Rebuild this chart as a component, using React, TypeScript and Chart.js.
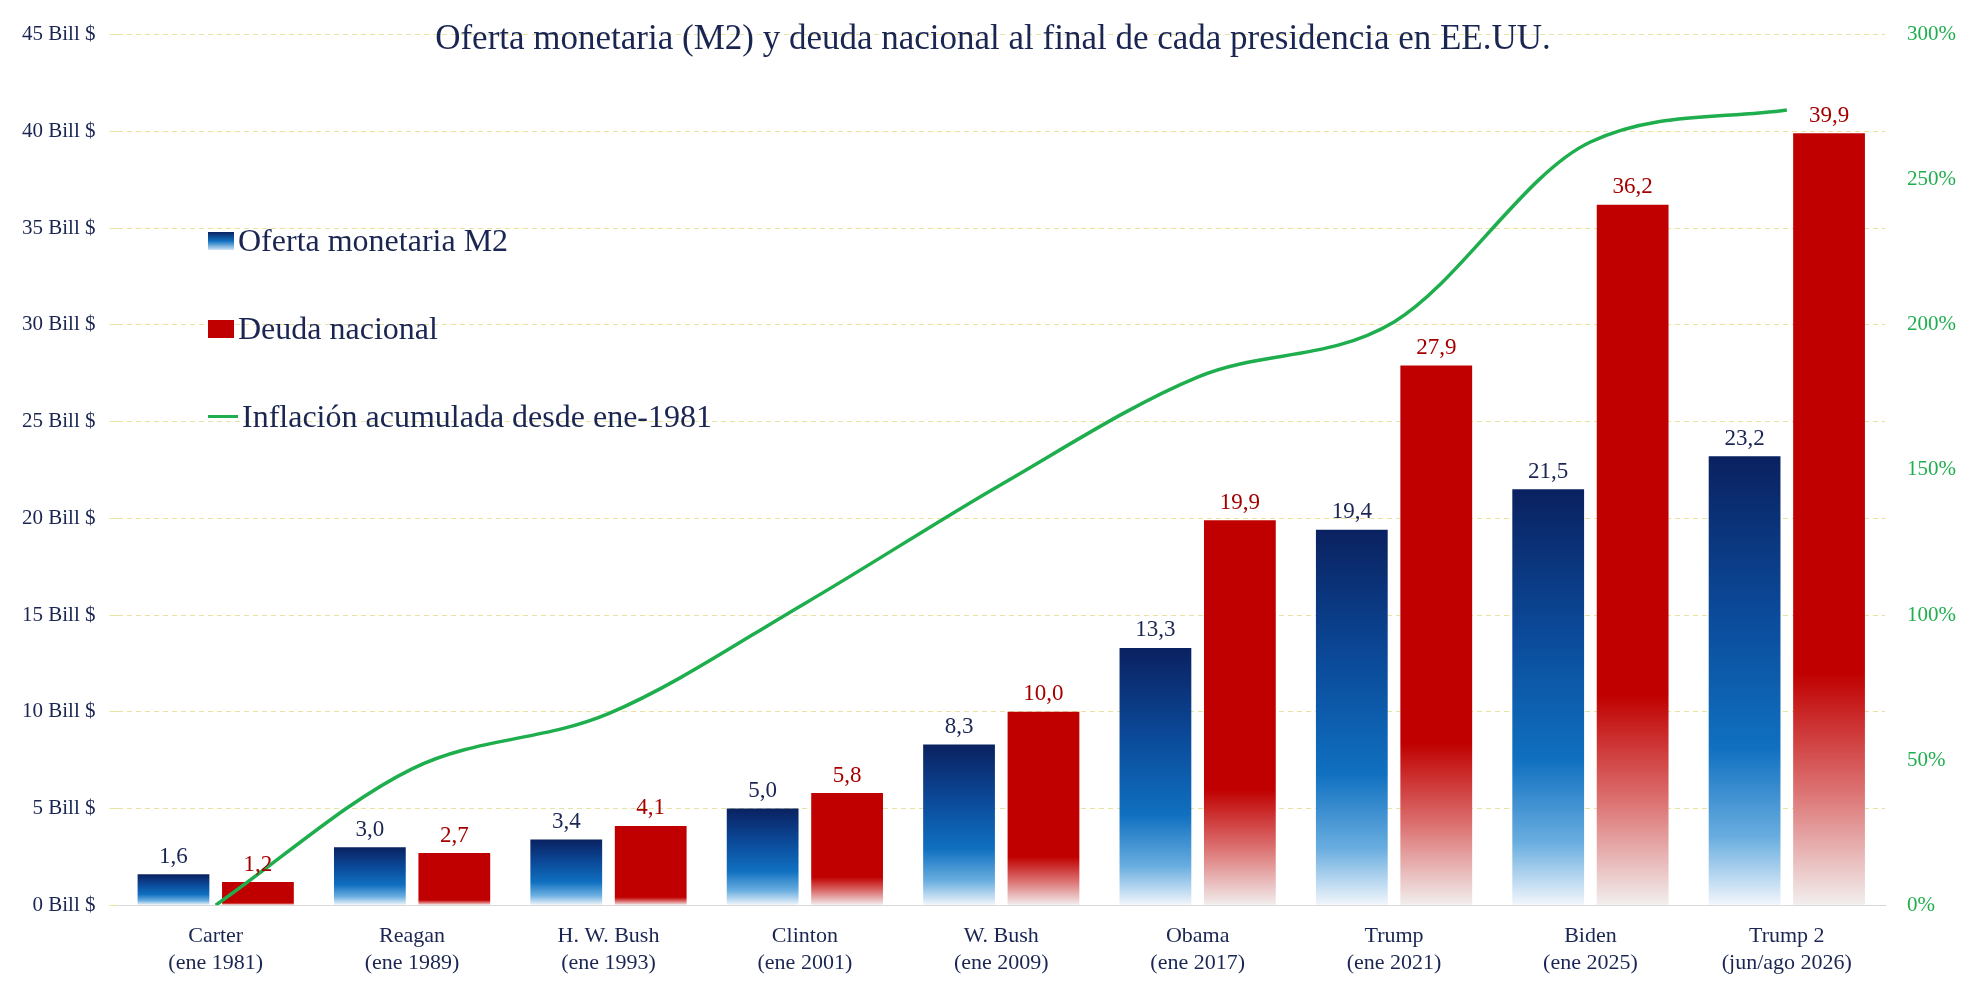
import React, { useEffect, useRef } from "react";
import { Chart, registerables } from "chart.js";
Chart.register(...registerables);

const categories = [["Carter", "(ene 1981)"], ["Reagan", "(ene 1989)"], ["H. W. Bush", "(ene 1993)"], ["Clinton", "(ene 2001)"], ["W. Bush", "(ene 2009)"], ["Obama", "(ene 2017)"], ["Trump", "(ene 2021)"], ["Biden", "(ene 2025)"], ["Trump 2", "(jun/ago 2026)"]];
const m2 = [1.6, 3.0, 3.4, 5.0, 8.3, 13.3, 19.4, 21.5, 23.2];
const debt = [1.2, 2.7, 4.1, 5.8, 10.0, 19.9, 27.9, 36.2, 39.9];
const inflation = [0, 47, 66, 104, 145, 182, 201, 263, 274];

const FONT = "'Liberation Serif', 'DejaVu Serif', serif";
const fmt = (v: number) => v.toFixed(1).replace(".", ",");

export default function App() {
  const ref = useRef<HTMLCanvasElement>(null);
  useEffect(() => {
    const blueBg = (c: any) => {
      const ch = c.chart; const y = ch.scales.y;
      if (!ch.chartArea || !y || c.raw == null) return "#0b3a7a";
      const top = y.getPixelForValue(c.raw), bot = y.getPixelForValue(0);
      const g = ch.ctx.createLinearGradient(0, top, 0, bot);
      g.addColorStop(0, "#0a2160");
      g.addColorStop(0.35, "#0b4a9a");
      g.addColorStop(0.65, "#1070c0");
      g.addColorStop(0.85, "#6aaee0");
      g.addColorStop(1, "#f2f6fb");
      return g;
    };
    const redBg = (c: any) => {
      const ch = c.chart; const y = ch.scales.y;
      if (!ch.chartArea || !y || c.raw == null) return "#c00000";
      const top = y.getPixelForValue(c.raw), bot = y.getPixelForValue(0);
      const g = ch.ctx.createLinearGradient(0, top, 0, bot);
      const start = c.raw > 15 ? 0.7 : c.raw > 5 ? 0.75 : 0.9;
      g.addColorStop(0, "#c00000");
      g.addColorStop(start, "#c00000");
      g.addColorStop(start + (1 - start) * 0.5, "#dc7070");
      g.addColorStop(1, "#f2eeee");
      return g;
    };
    const labelPlugin = {
      id: "labels",
      afterDatasetsDraw(chart: any) {
        const ctx = chart.ctx;
        ctx.save();
        ctx.font = `23px ${FONT}`;
        ctx.textAlign = "center";
        ctx.textBaseline = "bottom";
        [0, 1].forEach((di) => {
          const meta = chart.getDatasetMeta(di);
          ctx.fillStyle = di === 0 ? "#1a2552" : "#a50000";
          meta.data.forEach((el: any, i: number) => {
            const v = chart.data.datasets[di].data[i];
            ctx.fillText(fmt(v), el.x, el.y - 6);
          });
        });
        ctx.restore();
      },
    };
    const chart = new Chart(ref.current!, {
      type: "bar",
      data: {
        labels: categories,
        datasets: [
          { label: "Oferta monetaria M2", data: m2, backgroundColor: blueBg, yAxisID: "y", order: 2, categoryPercentage: 0.86, barPercentage: 0.85 },
          { label: "Deuda nacional", data: debt, backgroundColor: redBg, yAxisID: "y", order: 2, categoryPercentage: 0.86, barPercentage: 0.85 },
          { type: "line", label: "Inflación acumulada desde ene-1981", data: inflation, borderColor: "#1fae4e", borderWidth: 3.5, pointRadius: 0, tension: 0.4, cubicInterpolationMode: "monotone", yAxisID: "y1", order: 1 } as any,
        ],
      },
      options: {
        animation: false,
        responsive: false,
        layout: { padding: { top: 10, right: 8, left: 0, bottom: 6 } },
        plugins: { legend: { display: false }, tooltip: { enabled: false } },
        scales: {
          x: {
            grid: { display: false },
            border: { color: "#d9d9d9" },
            ticks: { color: "#1a2552", font: { family: FONT, size: 22 }, padding: 10 },
          },
          y: {
            min: 0, max: 45,
            ticks: { stepSize: 5, color: "#1a2552", font: { family: FONT, size: 21 }, callback: (v: any) => `${v} Bill $`, padding: 14 },
            grid: { color: "#e8e4a0", lineWidth: 1 },
            border: { display: false, dash: [5, 4] },
          },
          y1: {
            position: "right", min: 0, max: 300,
            ticks: { stepSize: 50, color: "#1fae4e", font: { family: FONT, size: 21 }, callback: (v: any) => `${v}%`, padding: 14 },
            grid: { display: false },
            border: { display: false },
          },
        },
      },
      plugins: [labelPlugin],
    });
    return () => chart.destroy();
  }, []);

  const legendItem = (top: number, swatch: React.ReactNode, text: string) => (
    <div style={{ position: "absolute", left: 200, top, display: "flex", alignItems: "center", fontFamily: FONT, fontSize: 32, color: "#1a2552" }}>
      {swatch}
      <span style={{ marginLeft: 4 }}>{text}</span>
    </div>
  );
  return (
    <div style={{ position: "relative", width: 1970, height: 984 }}>
      <canvas ref={ref} width={1970} height={984} />
      <div style={{ position: "absolute", left: 0, width: 1970, top: 10, textAlign: "center", fontFamily: FONT, fontSize: 35, color: "#1a2552" }}>
        Oferta monetaria (M2) y deuda nacional al final de cada presidencia en EE.UU.
      </div>
      {legendItem(214, <div style={{ width: 26, height: 18, background: "linear-gradient(#0a2160, #1070c0, #cfe4f5)" }} />, "Oferta monetaria M2")}
      {legendItem(302, <div style={{ width: 26, height: 18, background: "#c00000" }} />, "Deuda nacional")}
      {legendItem(390, <div style={{ width: 30, height: 3, background: "#1fae4e" }} />, "Inflación acumulada desde ene-1981")}
    </div>
  );
}
